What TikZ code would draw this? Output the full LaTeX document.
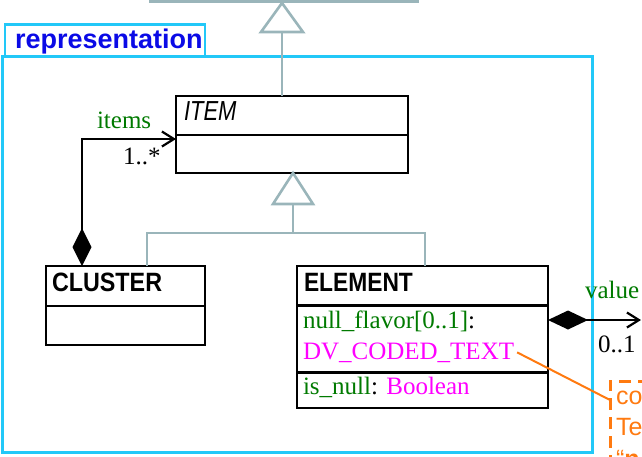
\documentclass[tikz,border=0pt]{standalone}
\usepackage{graphicx}
\usepackage{fontspec}
\setmainfont{Liberation Serif}
\setsansfont{Liberation Sans}
\usetikzlibrary{arrows.meta,calc}
\definecolor{pkgcyan}{HTML}{22C8F8}
\definecolor{gengray}{HTML}{9AB5BA}
\definecolor{pkgblue}{HTML}{0A0AE6}
\definecolor{attrgreen}{HTML}{007A00}
\definecolor{typemag}{HTML}{FF00FF}
\definecolor{noteorange}{HTML}{FF7A10}
\begin{document}
\begin{tikzpicture}[x=1pt,y=-1pt,
  pkg/.style={draw=pkgcyan, line width=3pt, inner sep=0pt, outer sep=0pt},
  classbox/.style={draw=black, line width=2.2pt, inner sep=0pt, outer sep=0pt},
  divider/.style={draw=black, line width=2.2pt},
  gen/.style={draw=gengray, line width=2.6pt},
  assoc/.style={draw=black, line width=2.2pt},
  notebox/.style={draw=noteorange, line width=3pt, dash pattern=on 12pt off 7pt, inner sep=0pt, outer sep=0pt},
  txt/.style={inner sep=0pt, outer sep=0pt, anchor=base west},
  serif/.style={txt, font=\fontsize{25}{29}\selectfont},
  clname/.style={txt, font=\fontsize{26.5}{30}\selectfont\sffamily\bfseries},
  abstractname/.style={txt, font=\fontsize{27.5}{30}\selectfont\sffamily\itshape},
  pkgname/.style={txt, font=\fontsize{27}{30}\selectfont\sffamily\bfseries, text=pkgblue},
  notetext/.style={txt, font=\fontsize{25}{30}\selectfont\sffamily, text=noteorange},
  comp/.style={assoc, {Diamond[length=38pt,width=19pt,fill=black]}-{Straight Barb[length=12pt,width=15pt]}}
]
\useasboundingbox (0,0) rectangle (642,456);
\clip (0,0) rectangle (642,456);

% package
\node[pkg, anchor=north west, minimum width=590, minimum height=396] (repr) at (2,56) {};
\node[pkg, line width=2.5pt, anchor=south west, minimum width=200, minimum height=31.5] (tab) at (5,56) {};
\node[pkgname] (tabtext) at (15,48) {representation};

% parent (cut off at top)
\node[draw=gengray, line width=2.6pt, inner sep=0pt, outer sep=0pt, anchor=south west, minimum width=268, minimum height=40] (parent) at (150,1.5) {};

% classes
\node[classbox, anchor=north west, minimum width=232, minimum height=77] (item) at (176,96) {};
\draw[divider] ($(item.north west)+(0,39)$) -- ($(item.north east)+(0,39)$);
\node[abstractname] (itemname) at (184,120) {\scalebox{0.8}[1]{ITEM}};

\node[classbox, anchor=north west, minimum width=159, minimum height=79] (cluster) at (46,266) {};
\draw[divider] ($(cluster.north west)+(0,40)$) -- ($(cluster.north east)+(0,40)$);
\node[clname] (clustername) at (52,291) {\scalebox{0.88}[1]{CLUSTER}};

\node[classbox, anchor=north west, minimum width=251, minimum height=142] (element) at (297,266) {};
\draw[divider] ($(element.north west)+(0,39.5)$) -- ($(element.north east)+(0,39.5)$);
\draw[divider] ($(element.north west)+(0,106.5)$) -- ($(element.north east)+(0,106.5)$);
\node[clname] (elementname) at (304,291) {\scalebox{0.86}[1]{ELEMENT}};
\node[serif] (nf) at (303,328.5) {\textcolor{attrgreen}{null\_flavor[0..1]}:};
\node[serif, text=typemag] (dv) at (303,359) {DV\_CODED\_TEXT};
\node[serif] (isnull) at (303,394.5) {\textcolor{attrgreen}{is\_null}: \textcolor{typemag}{Boolean}};

% generalisation to parent
\coordinate (pa) at (282,3);
\draw[gen] (pa) -- ++(-21,29) -- ++(42,0) -- cycle;
\draw[gen] ($(pa)+(0,30)$) -- (pa |- item.north);

% generalisation ITEM <- CLUSTER, ELEMENT
\coordinate (ia) at ($(item.south)+(1,0)$);
\draw[gen] (ia) -- ++(-20,31) -- ++(40,0) -- cycle;
\coordinate (hub) at ($(ia)+(0,60)$);
\draw[gen] ($(ia)+(0,32)$) -- (hub);
\coordinate (clt) at ($(cluster.north west)+(101,0)$);
\coordinate (elt) at ($(element.north west)+(128,0)$);
\draw[gen] (clt) |- (hub) -| (elt);

% composition CLUSTER -> ITEM
\coordinate (cd) at ($(cluster.north west)+(36,0)$);
\coordinate (itl) at ($(item.north west)+(0,43)$);
\draw[comp] (cd) |- (itl);
\node[serif, text=attrgreen] (itemslbl) at (97,128) {items};
\node[serif] (itemsmult) at (123,164) {1..*};

% composition ELEMENT -> value
\coordinate (ed) at ($(element.north east)+(0,54)$);
\coordinate (vend) at (641,320);
\draw[comp, {Diamond[length=40pt,width=19pt,fill=black]}-{Straight Barb[length=12pt,width=15pt]}] (ed) -- (vend);
\node[serif, text=attrgreen] (valuelbl) at (585,298) {value};
\node[serif] (valuemult) at (598,352) {0..1};

% note
\node[notebox, anchor=north west, minimum width=140, minimum height=140] (note) at (610,381) {};
\node[notetext] (n1) at (616,404) {co};
\node[notetext] (n2) at (616,435) {Te};
\node[notetext] (n3) at (616,467) {“\textbf{n}};
\coordinate (noteend) at ($(note.north west)+(0,19)$);
\draw[draw=noteorange, line width=2pt] ([xshift=3pt]dv.east) -- (noteend);
\end{tikzpicture}
\end{document}
